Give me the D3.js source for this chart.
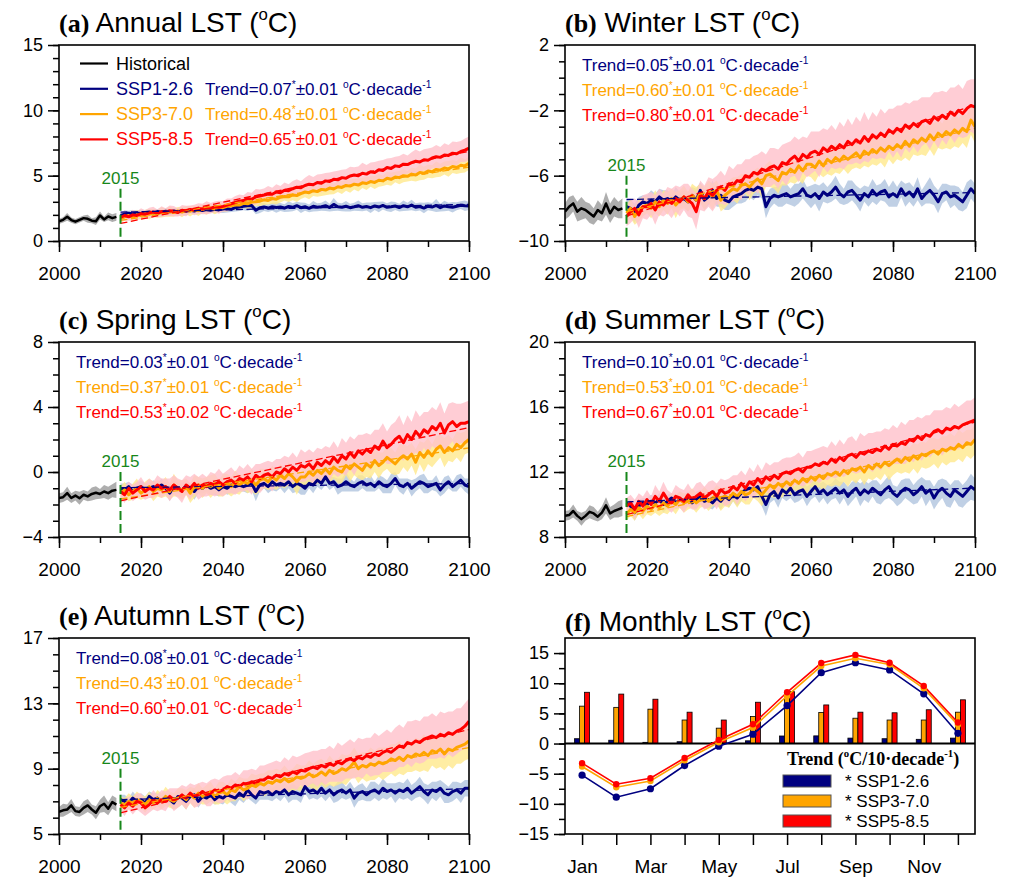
<!DOCTYPE html>
<html>
<head>
<meta charset="utf-8">
<script src="https://cdn.jsdelivr.net/npm/d3@7"></script>
<style>
  body { margin: 0; background: #fff; }
  svg { display: block; }
</style>
</head>
<body>
<svg id="chart" width="1012" height="877"></svg>
<script>
// ---------------- Data ----------------
// Historical years 2000-2014, scenario years 2015-2100
const histYears = d3.range(2000, 2015);
const scenYears = d3.range(2015, 2101);
const scenarioNames = ["SSP1-2.6", "SSP3-7.0", "SSP5-8.5"];
const yearTicks = [2000, 2020, 2040, 2060, 2080, 2100];

// (a) Annual LST
const annualHist = [1.50,1.62,1.85,1.60,1.48,1.62,1.75,1.70,1.55,1.52,1.95,1.65,1.88,1.75,1.85];
const annualHistSpread = [0.2,0.2,0.3,0.2,0.2,0.2,0.2,0.3,0.2,0.3,0.3,0.2,0.3,0.3,0.3];
const annualSSP126 = [
  1.95,2.05,2.12,2.08,2.15,2.10,2.18,2.22,2.15,2.25,
  2.20,2.28,2.24,2.30,2.22,2.32,2.28,2.35,2.30,2.38,
  2.33,2.40,2.36,2.42,2.38,2.45,2.48,2.42,2.55,2.60,
  2.65,2.70,2.72,2.35,2.55,2.60,2.52,2.62,2.56,2.60,
  2.52,2.64,2.58,2.70,2.55,2.62,2.50,2.66,2.58,2.62,
  2.70,2.56,2.80,2.62,2.58,2.66,2.55,2.62,2.70,2.58,
  2.64,2.55,2.68,2.60,2.72,2.58,2.62,2.68,2.56,2.70,
  2.62,2.75,2.58,2.64,2.52,2.66,2.60,2.72,2.55,2.68,
  2.62,2.58,2.66,2.74,2.70,2.68];
const annualSSP370 = [
  1.70,1.85,1.95,1.80,2.00,1.95,2.10,2.05,2.15,2.08,
  2.20,2.15,2.25,2.18,2.30,2.22,2.35,2.28,2.40,2.32,
  2.45,2.40,2.50,2.45,2.58,2.55,2.65,2.70,2.78,2.75,
  2.88,2.85,2.98,3.00,3.05,3.15,3.10,3.25,3.20,3.35,
  3.40,3.38,3.52,3.48,3.62,3.75,3.70,3.85,3.78,3.95,
  3.90,4.05,3.98,4.15,4.10,4.25,4.20,4.35,4.28,4.45,
  4.40,4.55,4.48,4.65,4.60,4.80,4.72,4.90,4.85,5.00,
  4.95,5.12,5.05,5.25,5.18,5.35,5.30,5.48,5.42,5.58,
  5.52,5.70,5.62,5.80,5.75,5.95];
const annualSSP585 = [
  1.80,1.95,1.85,2.00,1.95,2.10,2.05,2.15,2.22,2.12,
  2.25,2.20,2.32,2.28,2.18,2.35,2.30,2.42,2.38,2.48,
  2.45,2.55,2.50,2.62,2.58,2.65,2.75,2.85,2.95,3.05,
  3.10,3.25,3.20,3.38,3.45,3.52,3.60,3.58,3.75,3.70,
  3.88,3.85,4.00,4.12,4.08,4.25,4.35,4.30,4.48,4.42,
  4.60,4.55,4.72,4.68,4.85,4.80,4.98,5.05,5.00,5.18,
  5.12,5.30,5.25,5.45,5.40,5.62,5.55,5.75,5.70,5.88,
  5.85,6.00,6.10,6.05,6.22,6.18,6.35,6.45,6.40,6.58,
  6.55,6.72,6.68,6.85,6.95,7.10];
const annualSSP126Spread = [
  0.2,0.3,0.2,0.3,0.2,0.3,0.2,0.2,0.3,0.2,
  0.3,0.2,0.3,0.2,0.3,0.2,0.3,0.2,0.2,0.3,
  0.2,0.3,0.2,0.3,0.2,0.3,0.3,0.2,0.3,0.3,
  0.3,0.4,0.3,0.3,0.4,0.3,0.3,0.3,0.4,0.3,
  0.3,0.4,0.3,0.3,0.4,0.3,0.3,0.4,0.3,0.3,
  0.4,0.3,0.5,0.3,0.3,0.4,0.3,0.3,0.4,0.3,
  0.3,0.4,0.3,0.4,0.3,0.3,0.4,0.3,0.3,0.4,
  0.3,0.4,0.3,0.3,0.4,0.3,0.3,0.5,0.3,0.4,
  0.3,0.4,0.3,0.3,0.4,0.3];
const annualSSP370Spread = [
  0.3,0.3,0.2,0.3,0.4,0.3,0.3,0.4,0.3,0.3,
  0.4,0.3,0.4,0.3,0.3,0.4,0.3,0.4,0.3,0.4,
  0.3,0.4,0.3,0.4,0.4,0.3,0.4,0.3,0.4,0.4,
  0.3,0.4,0.4,0.3,0.4,0.4,0.3,0.4,0.4,0.4,
  0.3,0.4,0.4,0.5,0.4,0.4,0.5,0.4,0.4,0.5,
  0.4,0.5,0.4,0.4,0.5,0.4,0.5,0.4,0.5,0.4,
  0.5,0.4,0.5,0.5,0.4,0.5,0.5,0.4,0.5,0.5,
  0.4,0.5,0.5,0.6,0.5,0.5,0.5,0.6,0.5,0.5,
  0.6,0.5,0.5,0.6,0.5,0.5];
const annualSSP585Spread = [
  0.3,0.4,0.3,0.4,0.3,0.4,0.3,0.4,0.4,0.3,
  0.4,0.3,0.4,0.4,0.3,0.4,0.4,0.3,0.4,0.4,
  0.4,0.5,0.4,0.4,0.5,0.4,0.5,0.4,0.5,0.5,
  0.4,0.5,0.5,0.6,0.5,0.5,0.6,0.5,0.6,0.5,
  0.6,0.5,0.6,0.6,0.5,0.6,0.7,0.6,0.6,0.7,
  0.6,0.7,0.6,0.7,0.6,0.7,0.7,0.6,0.7,0.8,
  0.7,0.7,0.8,0.7,0.8,0.7,0.8,0.7,0.8,0.8,
  0.7,0.8,0.9,0.8,0.8,0.9,0.8,0.9,0.8,0.9,
  0.8,0.9,0.9,0.8,0.9,0.9];
const annualTrend = [0.07, 0.48, 0.65];
const annualTrendErr = [0.01, 0.01, 0.01];
const annualTicks = [0, 5, 10, 15];

// (b) Winter LST
const winterHist = [-8.2,-7.9,-7.7,-8.2,-8.0,-8.1,-8.3,-8.5,-8.1,-8.3,-7.7,-8.3,-7.9,-8.1,-8.0];
const winterHistSpread = [0.5,0.6,0.5,0.6,0.7,0.5,0.6,0.5,0.6,0.5,0.7,0.6,0.6,0.5,0.6];
const winterSSP126 = [
  -7.9,-8.0,-8.3,-7.8,-7.6,-7.7,-7.5,-7.6,-7.3,-7.5,
  -7.4,-7.6,-7.3,-7.5,-7.4,-7.6,-7.2,-7.5,-6.9,-7.5,
  -7.3,-6.9,-7.4,-7.2,-7.5,-7.6,-7.3,-7.2,-7.1,-6.9,
  -6.8,-6.9,-6.7,-6.8,-7.9,-7.4,-7.2,-7.3,-7.2,-7.1,
  -7.3,-7.2,-7.1,-6.8,-7.2,-7.3,-7.1,-7.4,-7.0,-7.2,
  -7.0,-6.7,-7.1,-7.3,-7.0,-6.9,-7.2,-7.5,-7.1,-7.3,
  -6.9,-7.2,-7.0,-6.9,-7.3,-7.1,-7.3,-6.8,-7.2,-7.0,
  -7.3,-6.8,-7.4,-7.1,-6.9,-7.2,-7.6,-7.1,-7.0,-7.3,
  -7.2,-7.4,-7.6,-7.2,-6.8,-7.1];
const winterSSP370 = [
  -8.3,-8.0,-8.5,-8.1,-7.9,-7.8,-8.0,-7.6,-7.9,-7.5,
  -7.7,-7.4,-7.8,-7.5,-7.3,-7.6,-7.2,-7.5,-7.1,-7.4,
  -7.0,-7.3,-6.9,-7.5,-7.2,-7.0,-6.8,-6.9,-6.6,-6.5,
  -6.7,-6.4,-6.2,-6.5,-6.0,-5.9,-6.1,-6.3,-5.8,-5.9,
  -5.6,-5.8,-5.4,-5.7,-5.3,-5.3,-5.5,-5.1,-5.4,-5.0,
  -5.2,-4.9,-5.1,-4.8,-5.0,-4.8,-4.6,-4.9,-4.5,-4.7,
  -4.4,-4.6,-4.3,-4.5,-4.2,-4.4,-4.1,-4.3,-3.9,-4.2,
  -3.8,-4.0,-3.7,-3.9,-3.5,-3.8,-3.4,-3.6,-3.3,-3.5,
  -3.2,-3.4,-3.1,-3.3,-2.6,-3.0];
const winterSSP585 = [
  -8.5,-8.2,-8.0,-8.4,-7.9,-7.9,-7.7,-8.1,-7.6,-7.8,
  -7.5,-7.7,-7.4,-7.6,-7.3,-7.5,-7.7,-8.2,-7.2,-7.4,
  -7.0,-7.2,-6.9,-6.7,-6.9,-6.5,-6.6,-6.3,-6.4,-6.0,
  -6.1,-5.8,-5.9,-5.6,-5.7,-5.5,-5.4,-5.6,-5.2,-5.3,
  -5.0,-4.8,-5.1,-4.7,-4.9,-4.6,-4.5,-4.7,-4.3,-4.5,
  -4.2,-4.4,-4.1,-4.3,-3.9,-4.1,-3.8,-4.0,-3.6,-3.9,
  -3.5,-3.7,-3.4,-3.6,-3.2,-3.4,-3.1,-3.3,-2.9,-3.1,
  -2.8,-3.0,-2.7,-2.6,-2.8,-2.4,-2.6,-2.3,-2.5,-2.1,
  -2.3,-2.0,-2.2,-1.9,-1.7,-1.8];
const winterSSP126Spread = [
  0.4,0.5,0.6,0.5,0.4,0.5,0.6,0.5,0.5,0.6,
  0.5,0.4,0.6,0.5,0.5,0.6,0.5,0.7,0.5,0.6,
  0.5,0.6,0.5,0.7,0.6,0.5,0.6,0.5,0.6,0.7,
  0.5,0.6,0.5,0.6,0.7,0.6,0.5,0.6,0.7,0.6,
  0.5,0.7,0.6,0.6,0.5,0.7,0.6,0.8,0.6,0.5,
  0.6,0.7,0.6,0.5,0.7,0.6,0.6,0.7,0.5,0.6,
  0.7,0.6,0.5,0.7,0.6,0.8,0.6,0.5,0.7,0.6,
  0.6,0.7,0.5,0.6,0.8,0.6,0.7,0.6,0.5,0.7,
  0.6,0.7,0.6,0.8,0.6,0.6];
const winterSSP370Spread = [
  0.5,0.6,0.5,0.7,0.6,0.5,0.6,0.7,0.6,0.6,
  0.7,0.6,0.8,0.6,0.7,0.6,0.7,0.8,0.6,0.7,
  0.7,0.8,0.6,0.7,0.8,0.7,0.7,0.8,0.7,0.6,
  0.8,0.7,0.7,0.8,0.7,0.8,0.7,0.8,0.8,0.7,
  0.8,0.7,0.9,0.8,0.7,0.8,0.9,0.8,0.7,0.9,
  0.8,0.9,0.8,0.8,0.9,0.8,0.9,0.7,0.9,0.8,
  0.9,0.8,0.9,1.0,0.8,0.9,0.9,0.8,1.0,0.9,
  0.9,0.8,1.0,0.9,0.9,1.0,0.9,0.8,1.0,0.9,
  1.0,0.9,0.9,1.0,0.9,1.0];
const winterSSP585Spread = [
  0.6,0.7,0.6,0.8,0.7,0.8,0.7,0.9,0.8,0.7,
  0.8,0.9,0.8,0.9,0.8,1.0,0.9,1.1,0.9,0.8,
  0.9,1.0,0.9,1.0,0.9,1.1,1.0,1.0,1.1,1.0,
  1.1,1.0,1.2,1.1,1.0,1.2,1.1,1.2,1.1,1.3,
  1.1,1.2,1.3,1.1,1.2,1.3,1.2,1.4,1.2,1.3,
  1.3,1.2,1.4,1.3,1.4,1.2,1.4,1.3,1.5,1.3,
  1.4,1.3,1.5,1.4,1.3,1.5,1.4,1.6,1.4,1.5,
  1.4,1.6,1.5,1.4,1.6,1.5,1.7,1.5,1.6,1.5,
  1.7,1.6,1.5,1.7,1.6,1.7];
const winterTrend = [0.05, 0.60, 0.80];
const winterTrendErr = [0.01, 0.01, 0.01];
const winterTicks = [-10, -6, -2, 2];

// (c) Spring LST
const springHist = [-1.60,-1.55,-1.30,-1.60,-1.45,-1.62,-1.40,-1.50,-1.35,-1.28,-1.35,-1.20,-1.30,-1.15,-1.10];
const springHistSpread = [0.3,0.3,0.4,0.3,0.3,0.4,0.3,0.3,0.4,0.4,0.3,0.4,0.4,0.4,0.5];
const springSSP126 = [
  -1.0,-1.1,-0.9,-1.2,-1.0,-0.9,-1.1,-1.0,-0.9,-1.0,
  -0.8,-1.0,-1.3,-0.9,-1.0,-1.1,-0.9,-1.0,-1.2,-0.9,
  -1.0,-0.8,-1.0,-0.9,-1.1,-0.9,-1.0,-0.8,-0.9,-0.8,
  -0.9,-0.8,-0.7,-1.2,-0.8,-0.7,-0.9,-0.6,-0.8,-0.7,
  -0.8,-0.6,-0.9,-0.7,-0.8,-1.0,-0.7,-0.8,-0.5,-0.7,
  -0.3,-0.7,-0.6,-0.9,-0.8,-0.6,-0.8,-0.9,-0.7,-0.6,
  -0.8,-0.7,-0.9,-0.6,-0.8,-0.9,-0.7,-0.4,-0.8,-0.9,
  -0.7,-1.0,-0.8,-0.6,-0.7,-0.9,-0.8,-0.7,-1.1,-0.8,
  -0.6,-0.9,-0.7,-0.5,-0.8,-0.9];
const springSSP370 = [
  -1.3,-1.1,-1.4,-1.2,-1.0,-1.3,-1.1,-0.9,-1.2,-1.0,
  -1.1,-0.9,-1.2,-0.8,-1.0,-1.1,-0.9,-1.3,-0.9,-0.8,
  -1.0,-0.8,-0.9,-0.7,-1.0,-0.8,-0.7,-0.9,-0.6,-0.8,
  -0.6,-0.7,-0.5,-0.8,-0.5,-0.4,-0.6,-0.3,-0.5,-0.2,
  -0.4,-0.1,-0.3,-0.6,-0.3,-0.3,0.0,-0.2,0.1,-0.1,
  0.2,-0.1,0.3,0.1,0.0,0.4,0.2,0.5,0.3,0.1,
  0.5,0.3,0.7,0.4,0.6,0.9,0.7,0.5,0.8,1.0,
  0.8,1.1,0.6,1.2,0.9,1.3,1.0,1.4,1.6,1.2,
  1.5,1.3,1.7,1.5,1.8,2.0];
const springSSP585 = [
  -1.2,-1.4,-1.0,-1.3,-1.1,-0.9,-1.2,-1.0,-1.1,-0.8,
  -1.0,-0.9,-1.1,-0.8,-1.0,-1.2,-0.8,-1.0,-0.7,-1.0,
  -0.8,-0.9,-0.7,-0.8,-0.6,-0.8,-0.6,-0.5,-0.7,-0.4,
  -0.5,-0.3,-0.6,-0.2,-0.4,-0.2,-0.1,-0.3,0.0,-0.1,
  0.2,0.0,0.3,0.1,0.4,0.3,0.5,0.2,0.6,0.4,
  0.7,0.5,0.9,0.6,1.0,0.8,1.2,0.9,1.3,1.1,
  1.4,1.2,1.6,1.4,1.9,1.5,1.7,2.0,2.2,1.8,
  2.3,2.0,2.5,2.2,2.6,2.4,2.8,2.6,3.0,2.4,
  2.9,3.1,2.8,3.0,3.0,3.1];
const springSSP126Spread = [
  0.3,0.4,0.3,0.4,0.3,0.4,0.4,0.3,0.4,0.3,
  0.4,0.3,0.5,0.4,0.3,0.4,0.4,0.3,0.5,0.4,
  0.3,0.4,0.4,0.5,0.4,0.3,0.4,0.5,0.4,0.4,
  0.3,0.5,0.4,0.6,0.4,0.3,0.4,0.5,0.4,0.3,
  0.5,0.4,0.4,0.5,0.6,0.4,0.3,0.5,0.4,0.4,
  0.5,0.4,0.3,0.5,0.4,0.6,0.4,0.3,0.5,0.4,
  0.4,0.5,0.3,0.4,0.5,0.4,0.6,0.4,0.4,0.5,
  0.3,0.5,0.4,0.4,0.6,0.4,0.3,0.5,0.4,0.5,
  0.4,0.3,0.5,0.4,0.4,0.5];
const springSSP370Spread = [
  0.4,0.5,0.4,0.5,0.6,0.4,0.5,0.5,0.6,0.5,
  0.5,0.6,0.5,0.7,0.5,0.6,0.5,0.6,0.7,0.5,
  0.6,0.5,0.7,0.6,0.5,0.7,0.6,0.6,0.7,0.6,
  0.5,0.6,0.7,0.6,0.7,0.6,0.5,0.7,0.6,0.7,
  0.6,0.7,0.6,0.8,0.6,0.7,0.6,0.7,0.8,0.6,
  0.7,0.6,0.7,0.8,0.7,0.6,0.8,0.7,0.7,0.6,
  0.8,0.7,0.7,0.8,0.6,0.7,0.8,0.7,0.9,0.7,
  0.8,0.7,0.8,0.7,0.9,0.8,0.7,0.8,0.7,0.9,
  0.8,0.7,0.8,0.9,0.7,0.8];
const springSSP585Spread = [
  0.4,0.5,0.4,0.5,0.5,0.6,0.5,0.6,0.5,0.6,
  0.6,0.5,0.7,0.6,0.6,0.7,0.6,0.7,0.6,0.7,
  0.7,0.6,0.7,0.7,0.8,0.7,0.7,0.8,0.7,0.8,
  0.7,0.8,0.8,0.7,0.9,0.8,0.8,0.9,0.8,0.9,
  0.8,0.9,0.9,0.8,1.0,0.9,0.9,1.0,0.9,1.0,
  0.9,1.0,1.0,0.9,1.1,1.0,1.0,1.1,1.0,1.2,
  1.0,1.1,1.0,1.2,1.1,1.0,1.2,1.1,1.3,1.1,
  1.2,1.1,1.3,1.2,1.1,1.3,1.2,1.2,1.3,1.2,
  1.3,1.2,1.4,1.2,1.3,1.3];
const springTrend = [0.03, 0.37, 0.53];
const springTrendErr = [0.01, 0.01, 0.02];
const springTicks = [-4, 0, 4, 8];

// (d) Summer LST
const summerHist = [9.30,9.35,9.60,9.30,9.10,9.30,9.55,9.45,9.25,9.50,9.95,9.45,9.60,9.70,9.80];
const summerHistSpread = [0.3,0.3,0.4,0.3,0.4,0.3,0.4,0.4,0.3,0.4,0.5,0.4,0.4,0.5,0.5];
const summerSSP126 = [
  10.1,9.9,9.5,9.9,10.1,10.0,10.2,10.1,10.3,10.0,
  10.2,10.4,10.1,10.3,10.2,10.4,10.1,10.3,10.5,10.2,
  10.3,10.1,10.4,10.2,10.5,10.3,10.6,10.4,10.7,10.9,
  11.0,10.9,11.1,10.5,10.0,10.6,10.8,10.4,10.9,10.7,
  11.0,10.6,10.8,10.9,10.5,10.8,11.1,10.7,10.9,10.6,
  10.8,11.0,10.7,10.9,10.5,10.8,11.0,10.6,10.9,10.7,
  11.0,10.8,10.6,10.9,11.1,10.7,10.5,10.8,11.0,10.9,
  10.6,10.8,11.1,10.7,10.9,10.4,10.8,11.0,10.7,10.5,
  10.9,10.7,10.5,10.8,11.1,10.9];
const summerSSP370 = [
  9.4,9.7,9.5,9.8,9.6,9.9,9.7,10.0,9.8,10.1,
  9.9,10.2,10.0,10.3,10.1,10.2,10.4,10.1,10.3,10.5,
  10.2,10.4,10.6,10.3,10.5,10.4,10.7,10.5,10.8,10.6,
  10.7,11.0,10.8,10.6,10.9,11.2,11.0,11.3,11.1,11.4,
  11.2,11.5,11.3,11.6,11.4,11.7,11.5,11.8,11.6,11.9,
  11.8,12.0,11.8,12.1,11.9,12.2,12.1,12.3,12.0,12.4,
  12.2,12.5,12.3,12.6,12.4,12.6,12.8,12.6,12.9,12.7,
  13.0,12.8,13.1,13.0,13.2,13.3,13.1,13.4,13.3,13.5,
  13.4,13.7,13.5,13.8,13.7,14.0];
const summerSSP585 = [
  9.9,10.1,9.7,10.2,9.9,10.3,10.0,10.5,10.2,10.7,
  10.3,10.1,10.5,10.4,10.2,10.6,10.3,10.5,10.7,10.4,
  10.6,10.8,10.5,10.9,10.7,10.8,11.1,10.9,11.3,11.0,
  11.4,11.2,11.6,11.3,11.7,11.5,11.8,11.6,11.9,12.0,
  11.9,12.1,12.2,12.0,12.3,12.3,12.5,12.4,12.6,12.5,
  12.8,12.6,12.9,12.7,13.0,13.1,12.9,13.2,13.1,13.3,
  13.2,13.4,13.3,13.6,13.4,13.7,13.6,13.8,13.7,14.0,
  13.9,14.2,14.0,14.3,14.2,14.5,14.6,14.4,14.7,14.6,
  14.8,14.7,14.9,15.0,15.1,15.2];
const summerSSP126Spread = [
  0.3,0.4,0.5,0.4,0.3,0.4,0.4,0.3,0.4,0.5,
  0.4,0.3,0.4,0.5,0.4,0.4,0.3,0.5,0.4,0.4,
  0.5,0.4,0.4,0.5,0.4,0.5,0.4,0.5,0.5,0.4,
  0.5,0.4,0.5,0.6,0.7,0.5,0.5,0.6,0.5,0.5,
  0.6,0.5,0.6,0.5,0.6,0.5,0.6,0.6,0.5,0.6,
  0.5,0.6,0.7,0.5,0.6,0.6,0.5,0.7,0.6,0.6,
  0.5,0.7,0.6,0.6,0.7,0.5,0.6,0.7,0.6,0.7,
  0.6,0.7,0.6,0.8,0.6,0.7,0.7,0.6,0.8,0.7,
  0.6,0.8,0.7,0.7,0.8,0.7];
const summerSSP370Spread = [
  0.4,0.4,0.5,0.4,0.5,0.5,0.4,0.5,0.5,0.6,
  0.5,0.5,0.6,0.5,0.6,0.5,0.6,0.6,0.5,0.6,
  0.6,0.5,0.6,0.7,0.6,0.6,0.5,0.7,0.6,0.6,
  0.7,0.6,0.6,0.7,0.6,0.7,0.6,0.7,0.7,0.6,
  0.7,0.6,0.7,0.7,0.8,0.6,0.7,0.7,0.8,0.7,
  0.7,0.8,0.7,0.7,0.8,0.7,0.8,0.7,0.8,0.8,
  0.7,0.8,0.8,0.7,0.9,0.8,0.8,0.7,0.9,0.8,
  0.8,0.9,0.8,0.8,0.9,0.8,0.9,0.8,0.9,0.9,
  0.8,0.9,0.9,0.8,0.9,0.9];
const summerSSP585Spread = [
  0.5,0.5,0.6,0.5,0.6,0.6,0.5,0.7,0.6,0.7,
  0.6,0.6,0.7,0.6,0.7,0.7,0.6,0.8,0.7,0.7,
  0.8,0.7,0.8,0.7,0.8,0.8,0.7,0.9,0.8,0.8,
  0.9,0.8,0.9,0.8,0.9,0.9,0.8,1.0,0.9,0.9,
  1.0,0.9,1.0,0.9,1.0,1.0,0.9,1.1,1.0,1.0,
  1.1,1.0,1.1,1.0,1.1,1.1,1.0,1.2,1.1,1.1,
  1.2,1.1,1.2,1.1,1.2,1.2,1.1,1.3,1.2,1.2,
  1.3,1.2,1.3,1.2,1.3,1.3,1.2,1.4,1.3,1.3,
  1.4,1.3,1.3,1.4,1.3,1.4];
const summerTrend = [0.10, 0.53, 0.67];
const summerTrendErr = [0.01, 0.01, 0.01];
const summerTicks = [8, 12, 16, 20];

// (e) Autumn LST
const autumnHist = [6.35,6.45,6.50,6.75,6.40,6.35,6.60,6.75,6.50,6.30,6.70,6.85,6.55,6.95,6.80];
const autumnHistSpread = [0.3,0.4,0.3,0.4,0.3,0.3,0.4,0.4,0.3,0.4,0.4,0.5,0.4,0.4,0.4];
const autumnSSP126 = [
  7.1,7.0,6.9,7.2,7.0,7.1,6.9,7.3,7.1,7.2,
  7.0,7.2,7.1,6.9,7.3,7.2,7.0,7.3,7.4,7.0,
  7.3,7.2,7.4,7.1,7.3,7.2,7.4,7.3,7.2,7.5,
  7.3,7.7,7.4,7.2,7.6,7.5,7.6,7.4,7.6,7.5,
  7.7,7.4,7.6,7.5,7.4,7.9,7.6,7.7,7.5,7.8,
  7.5,7.7,7.4,7.6,7.7,7.5,7.7,7.2,7.5,7.6,
  7.4,7.6,7.7,7.5,7.8,7.6,7.7,7.5,7.7,7.6,
  7.8,7.5,7.7,7.9,7.6,7.4,7.7,7.6,7.8,7.5,
  7.4,7.6,7.7,7.5,7.8,7.8];
const autumnSSP370 = [
  6.9,6.8,7.0,6.9,7.1,7.0,6.8,7.1,6.9,7.2,
  7.0,7.3,7.1,7.0,7.2,7.3,7.1,7.4,7.2,7.5,
  7.3,7.4,7.6,7.3,7.5,7.6,7.4,7.7,7.6,7.9,
  7.7,7.8,8.0,7.9,8.1,8.0,8.2,8.1,8.3,8.2,
  8.4,8.2,8.3,8.5,8.4,8.5,8.7,8.5,8.6,8.8,
  8.6,8.9,8.7,8.8,9.0,8.9,9.1,9.4,9.0,9.2,
  9.1,9.3,9.2,9.4,9.3,9.4,9.6,9.5,9.7,9.5,
  9.8,9.7,9.9,9.8,10.0,9.8,10.1,10.0,10.2,9.9,
  10.2,10.1,10.3,10.4,10.5,10.7];
const autumnSSP585 = [
  6.8,6.6,6.9,6.7,7.0,6.9,6.6,6.8,7.1,6.9,
  7.1,7.0,7.3,7.1,7.2,7.4,7.2,7.5,7.3,7.4,
  7.6,7.4,7.5,7.7,7.6,7.7,7.9,7.8,8.0,7.9,
  8.1,8.0,8.2,8.1,8.3,8.3,8.5,8.4,8.6,8.5,
  8.7,8.6,8.8,8.7,8.9,8.85,9.0,9.1,9.0,9.2,
  9.1,9.3,9.2,9.4,9.3,9.5,9.6,9.5,9.7,9.6,
  9.8,9.7,9.9,9.8,10.0,10.1,10.0,10.2,10.4,10.3,
  10.6,10.5,10.7,10.6,10.8,10.9,11.0,10.9,11.1,11.0,
  11.2,11.1,11.3,11.4,11.6,11.9];
const autumnSSP126Spread = [
  0.3,0.4,0.3,0.4,0.3,0.4,0.4,0.3,0.4,0.3,
  0.4,0.3,0.4,0.4,0.3,0.4,0.5,0.3,0.4,0.4,
  0.3,0.4,0.4,0.3,0.4,0.4,0.3,0.4,0.5,0.4,
  0.4,0.5,0.4,0.4,0.5,0.4,0.5,0.4,0.4,0.5,
  0.4,0.5,0.5,0.4,0.5,0.4,0.5,0.5,0.4,0.5,
  0.5,0.4,0.5,0.6,0.5,0.4,0.5,0.6,0.5,0.5,
  0.4,0.6,0.5,0.5,0.6,0.5,0.4,0.6,0.5,0.5,
  0.6,0.5,0.5,0.6,0.5,0.6,0.5,0.6,0.5,0.6,
  0.5,0.6,0.5,0.6,0.5,0.5];
const autumnSSP370Spread = [
  0.4,0.4,0.5,0.4,0.5,0.4,0.5,0.5,0.4,0.5,
  0.5,0.6,0.5,0.5,0.6,0.5,0.6,0.5,0.6,0.6,
  0.5,0.6,0.6,0.5,0.7,0.6,0.6,0.7,0.6,0.6,
  0.7,0.6,0.7,0.7,0.6,0.7,0.7,0.8,0.7,0.7,
  0.8,0.7,0.7,0.8,0.8,0.7,0.8,0.8,0.9,0.8,
  0.8,0.9,0.8,0.8,0.9,0.9,0.8,0.9,0.9,0.8,
  0.9,1.0,0.9,0.9,1.0,0.9,0.9,1.0,1.0,0.9,
  1.0,0.9,1.0,1.0,1.1,1.0,0.9,1.0,1.1,1.0,
  1.0,1.1,1.0,1.1,1.0,1.1];
const autumnSSP585Spread = [
  0.4,0.5,0.4,0.5,0.5,0.6,0.5,0.5,0.6,0.5,
  0.6,0.6,0.5,0.7,0.6,0.6,0.7,0.6,0.7,0.7,
  0.6,0.7,0.8,0.7,0.7,0.8,0.7,0.8,0.8,0.7,
  0.8,0.9,0.8,0.8,0.9,0.9,0.8,1.0,0.9,0.9,
  1.0,0.9,1.0,1.0,0.9,1.1,1.0,1.0,1.1,1.0,
  1.1,1.1,1.0,1.2,1.1,1.1,1.2,1.1,1.2,1.2,
  1.1,1.2,1.3,1.2,1.2,1.3,1.2,1.3,1.3,1.2,
  1.3,1.4,1.3,1.3,1.4,1.3,1.4,1.3,1.4,1.4,
  1.3,1.4,1.4,1.3,1.4,1.4];
const autumnTrend = [0.08, 0.43, 0.60];
const autumnTrendErr = [0.01, 0.01, 0.01];
const autumnTicks = [5, 9, 13, 17];

// (f) Monthly LST climatology and monthly trends (°C per 10 decades)
const months = ["Jan","Feb","Mar","Apr","May","Jun","Jul","Aug","Sep","Oct","Nov","Dec"];
const monthLabels = ["Jan","Mar","May","Jul","Sep","Nov"];
const monthlySSP126 = [-5.25,-8.9,-7.5,-3.65,-0.45,1.55,6.3,11.75,13.4,12.2,8.25,1.7];
const monthlySSP370 = [-3.8,-7.25,-6.2,-2.8,0.2,2.65,7.9,12.85,14.15,13.1,9.15,3.1];
const monthlySSP585 = [-3.25,-6.75,-5.75,-2.4,0.6,3.2,8.5,13.35,14.7,13.4,9.55,3.5];
const monthTrendSSP126 = [0.8,0.55,0.2,0.3,0.15,0.45,1.25,1.27,0.9,0.8,0.7,0.9];
const monthTrendSSP370 = [6.2,6.0,5.7,3.9,2.55,4.5,8.4,5.15,4.2,3.9,3.9,5.2];
const monthTrendSSP585 = [8.5,8.2,7.35,5.2,3.9,6.85,8.6,6.4,5.2,5.1,5.6,7.25];
const monthlyTicks = [-15, -10, -5, 0, 5, 10, 15];

// Level at which the dashed 2015 marker line starts in each panel
const marker2015 = [4, -6, 0, 12, 9];

// ---------------- Styles ----------------
const SANS = "'Liberation Sans', Arial, Helvetica, sans-serif";
const SERIF = "'Liberation Serif', 'Times New Roman', Times, serif";
const lineColor = ["#000080", "#ffa500", "#ff0000"];
const bandColor = ["#b0c4de", "#ffe88c", "#ffc0cb"];
const histColor = "#000000";
const histBand = "#a0a0a0";
const markGreen = "#17871a";

const svg = d3.select("#chart");
svg.append("rect").attr("width", 1012).attr("height", 877).attr("fill", "#fff");

// Writes a run of text pieces; pieces flagged sup are raised and shrunk.
function richText(sel, pieces, size) {
  let shift = 0;
  pieces.forEach(p => {
    const ts = sel.append("tspan").text(p.t);
    const target = p.sup ? -size * 0.42 : 0;
    ts.attr("dy", target - shift);
    shift = target;
    if (p.sup) ts.attr("font-size", size * 0.6);
    if (p.font) ts.attr("font-family", p.font);
    if (p.weight) ts.attr("font-weight", p.weight);
    if (p.size) ts.attr("font-size", p.size);
  });
}

function drawTitle(g, x, y, tag, name) {
  const t = g.append("text").attr("x", x).attr("y", y)
    .attr("font-family", SANS).attr("font-size", 28).attr("fill", "#000");
  richText(t, [
    {t: tag, font: SERIF, weight: "bold", size: 26},
    {t: " " + name + " ("},
    {t: "o", sup: true},
    {t: "C)"}
  ], 28);
}

function trendPieces(v, e) {
  return [
    {t: "Trend=" + v.toFixed(2)},
    {t: "*", sup: true},
    {t: "\u00B1" + e.toFixed(2) + " "},
    {t: "o", sup: true},
    {t: "C\u00B7decade"},
    {t: "-1", sup: true}
  ];
}

function drawAxes(g, x, y, box, xTicks, xMinor, yTicks, yMinor, xFormat) {
  const ax = g.append("g").attr("transform", `translate(0,${box.y1})`)
    .call(d3.axisBottom(x).tickValues(xMinor).tickSize(6).tickFormat(""));
  ax.select(".domain").remove();
  const axM = g.append("g").attr("transform", `translate(0,${box.y1})`)
    .call(d3.axisBottom(x).tickValues(xTicks).tickSize(11).tickPadding(15).tickFormat(xFormat));
  axM.select(".domain").remove();
  axM.selectAll("text").attr("font-family", SANS).attr("font-size", 19).attr("fill", "#000");

  const ay = g.append("g").attr("transform", `translate(${box.x0},0)`)
    .call(d3.axisLeft(y).tickValues(yMinor).tickSize(6).tickFormat(""));
  ay.select(".domain").remove();
  const ayM = g.append("g").attr("transform", `translate(${box.x0},0)`)
    .call(d3.axisLeft(y).tickValues(yTicks).tickSize(11).tickPadding(5).tickFormat(d3.format("d")));
  ayM.select(".domain").remove();
  ayM.selectAll("text").attr("font-family", SANS).attr("font-size", 18).attr("fill", "#000");
  g.selectAll(".tick line").attr("stroke", "#000").attr("stroke-width", 1.5);
}

// ---------------- Time-series panels ----------------
const seasonPanels = [
  {tag: "(a)", name: "Annual", box: {x0: 59, x1: 469, y0: 45, y1: 241}, domain: [0, 15], ticks: annualTicks,
   hist: annualHist, histSpread: annualHistSpread,
   series: [annualSSP126, annualSSP370, annualSSP585],
   spreads: [annualSSP126Spread, annualSSP370Spread, annualSSP585Spread],
   trend: annualTrend, trendErr: annualTrendErr, legend: true},
  {tag: "(b)", name: "Winter", box: {x0: 565, x1: 975, y0: 45, y1: 241}, domain: [-10, 2], ticks: winterTicks,
   hist: winterHist, histSpread: winterHistSpread,
   series: [winterSSP126, winterSSP370, winterSSP585],
   spreads: [winterSSP126Spread, winterSSP370Spread, winterSSP585Spread],
   trend: winterTrend, trendErr: winterTrendErr},
  {tag: "(c)", name: "Spring", box: {x0: 59, x1: 469, y0: 342, y1: 537}, domain: [-4, 8], ticks: springTicks,
   hist: springHist, histSpread: springHistSpread,
   series: [springSSP126, springSSP370, springSSP585],
   spreads: [springSSP126Spread, springSSP370Spread, springSSP585Spread],
   trend: springTrend, trendErr: springTrendErr},
  {tag: "(d)", name: "Summer", box: {x0: 565, x1: 975, y0: 342, y1: 537}, domain: [8, 20], ticks: summerTicks,
   hist: summerHist, histSpread: summerHistSpread,
   series: [summerSSP126, summerSSP370, summerSSP585],
   spreads: [summerSSP126Spread, summerSSP370Spread, summerSSP585Spread],
   trend: summerTrend, trendErr: summerTrendErr},
  {tag: "(e)", name: "Autumn", box: {x0: 59, x1: 469, y0: 638, y1: 834}, domain: [5, 17], ticks: autumnTicks,
   hist: autumnHist, histSpread: autumnHistSpread,
   series: [autumnSSP126, autumnSSP370, autumnSSP585],
   spreads: [autumnSSP126Spread, autumnSSP370Spread, autumnSSP585Spread],
   trend: autumnTrend, trendErr: autumnTrendErr}
];

seasonPanels.forEach((p, pi) => {
  const b = p.box;
  const g = svg.append("g");
  const x = d3.scaleLinear().domain([2000, 2100]).range([b.x0, b.x1]);
  const y = d3.scaleLinear().domain(p.domain).range([b.y1, b.y0]);

  const clipId = "clip" + pi;
  g.append("clipPath").attr("id", clipId).append("rect")
    .attr("x", b.x0).attr("y", b.y0).attr("width", b.x1 - b.x0).attr("height", b.y1 - b.y0);
  const plot = g.append("g").attr("clip-path", `url(#${clipId})`);

  const rows = (yrs, vals, spr) => yrs.map((yr, i) => ({yr, v: vals[i], s: spr[i]}));
  const area = d3.area().x(d => x(d.yr)).y0(d => y(d.v - d.s)).y1(d => y(d.v + d.s));
  const line = d3.line().x(d => x(d.yr)).y(d => y(d.v));

  // spread bands
  plot.append("path").datum(rows(histYears, p.hist, p.histSpread))
    .attr("d", area).attr("fill", histBand).attr("fill-opacity", 0.85);
  p.series.forEach((s, k) => {
    plot.append("path").datum(rows(scenYears, s, p.spreads[k]))
      .attr("d", area).attr("fill", bandColor[k]).attr("fill-opacity", 0.8);
  });

  // ensemble means
  plot.append("path").datum(rows(histYears, p.hist, p.histSpread))
    .attr("d", line).attr("fill", "none").attr("stroke", histColor).attr("stroke-width", 2.5)
    .attr("stroke-linejoin", "round");
  p.series.forEach((s, k) => {
    plot.append("path").datum(rows(scenYears, s, p.spreads[k]))
      .attr("d", line).attr("fill", "none").attr("stroke", lineColor[k]).attr("stroke-width", 3)
      .attr("stroke-linejoin", "round");
  });

  // linear trends: slope from the stated trend (per decade), through the series centroid
  p.series.forEach((s, k) => {
    const my = d3.mean(scenYears), mv = d3.mean(s);
    const slope = p.trend[k] / 10;
    const ends = [2015, 2100].map(yr => ({yr, v: mv + slope * (yr - my)}));
    plot.append("path").datum(ends).attr("d", line).attr("fill", "none")
      .attr("stroke", lineColor[k]).attr("stroke-width", 1.3).attr("stroke-dasharray", "7,3.5");
  });

  // 2015 marker
  g.append("line").attr("x1", x(2015)).attr("x2", x(2015))
    .attr("y1", y(marker2015[pi])).attr("y2", b.y1)
    .attr("stroke", markGreen).attr("stroke-width", 2).attr("stroke-dasharray", "9,4");
  g.append("text").attr("x", x(2015)).attr("y", y(marker2015[pi]) - 5)
    .attr("text-anchor", "middle").attr("font-family", SANS).attr("font-size", 17)
    .attr("fill", markGreen).text("2015");

  // frame and axes
  g.append("rect").attr("x", b.x0).attr("y", b.y0).attr("width", b.x1 - b.x0).attr("height", b.y1 - b.y0)
    .attr("fill", "none").attr("stroke", "#000").attr("stroke-width", 1.6);
  drawAxes(g, x, y, b, yearTicks, d3.range(2000, 2101, 10), p.ticks,
           d3.range(p.domain[0], p.domain[1] + 0.001, 1), d3.format("d"));

  drawTitle(g, b.x0, b.y0 - 13, p.tag, p.name + " LST");

  // trend annotations (and the legend in the annual panel)
  if (p.legend) {
    const items = [{name: "Historical", color: histColor}]
      .concat(scenarioNames.map((n, k) => ({name: n, color: lineColor[k]})));
    items.forEach((it, i) => {
      const by = b.y0 + 24.5 + i * 25.3;
      g.append("line").attr("x1", b.x0 + 21).attr("x2", b.x0 + 49)
        .attr("y1", by - 6).attr("y2", by - 6).attr("stroke", it.color).attr("stroke-width", 2.2);
      g.append("text").attr("x", b.x0 + 57).attr("y", by).attr("font-family", SANS)
        .attr("font-size", 18).attr("fill", it.color).text(it.name);
      if (i > 0) {
        const t = g.append("text").attr("x", b.x0 + 146).attr("y", by)
          .attr("font-family", SANS).attr("font-size", 17).attr("fill", it.color);
        richText(t, trendPieces(p.trend[i - 1], p.trendErr[i - 1]), 17);
      }
    });
  } else {
    p.trend.forEach((v, k) => {
      const t = g.append("text").attr("x", b.x0 + 17).attr("y", b.y0 + 25.7 + k * 25)
        .attr("font-family", SANS).attr("font-size", 17).attr("fill", lineColor[k]);
      richText(t, trendPieces(v, p.trendErr[k]), 17);
    });
  }
});

// ---------------- (f) Monthly panel ----------------
(function () {
  const b = {x0: 565, x1: 975, y0: 638, y1: 834};
  const g = svg.append("g");
  const x = d3.scaleLinear().domain([0.5, 12.5]).range([b.x0, b.x1]);
  const y = d3.scaleLinear().domain([-15, 17.5]).range([b.y1, b.y0]);
  const trends = [monthTrendSSP126, monthTrendSSP370, monthTrendSSP585];
  const clim = [monthlySSP126, monthlySSP370, monthlySSP585];
  const barW = 5;

  // trend bars
  trends.forEach((arr, k) => {
    g.selectAll(null).data(arr).enter().append("rect")
      .attr("x", (d, i) => x(i + 1) + (k - 1) * barW - barW / 2)
      .attr("y", d => y(Math.max(0, d)))
      .attr("width", barW)
      .attr("height", d => Math.abs(y(d) - y(0)))
      .attr("fill", lineColor[k]).attr("stroke", "#000").attr("stroke-width", 0.8);
  });

  // zero line
  g.append("line").attr("x1", b.x0).attr("x2", b.x1).attr("y1", y(0)).attr("y2", y(0))
    .attr("stroke", "#000").attr("stroke-width", 2);

  // monthly climatology lines with markers
  const line = d3.line().x((d, i) => x(i + 1)).y(d => y(d));
  clim.forEach((arr, k) => {
    g.append("path").datum(arr).attr("d", line).attr("fill", "none")
      .attr("stroke", lineColor[k]).attr("stroke-width", 1.6);
  });
  clim.forEach((arr, k) => {
    g.selectAll(null).data(arr).enter().append("circle")
      .attr("cx", (d, i) => x(i + 1)).attr("cy", d => y(d))
      .attr("r", k === 0 ? 3.6 : 3.2).attr("fill", lineColor[k]);
  });

  g.append("rect").attr("x", b.x0).attr("y", b.y0).attr("width", b.x1 - b.x0).attr("height", b.y1 - b.y0)
    .attr("fill", "none").attr("stroke", "#000").attr("stroke-width", 1.6);

  drawAxes(g, x, y, b, d3.range(1, 13), [], monthlyTicks, d3.range(-15, 15.01, 2.5),
           d => monthLabels.includes(months[d - 1]) ? months[d - 1] : "");

  drawTitle(g, b.x0, b.y0 - 7, "(f)", "Monthly LST");

  // legend
  const lt = g.append("text").attr("x", 787).attr("y", 765)
    .attr("font-family", SERIF).attr("font-weight", "bold").attr("font-size", 18).attr("fill", "#000");
  richText(lt, [
    {t: "Trend ("}, {t: "o", sup: true}, {t: "C/10\u00B7decade"}, {t: "-1", sup: true}, {t: ")"}
  ], 18);
  scenarioNames.forEach((n, k) => {
    const ty = 775 + k * 20;
    g.append("rect").attr("x", 783).attr("y", ty).attr("width", 48).attr("height", 12)
      .attr("fill", lineColor[k]).attr("stroke", "#555").attr("stroke-width", 1);
    g.append("text").attr("x", 845).attr("y", ty + 12).attr("font-family", SANS)
      .attr("font-size", 17).attr("fill", "#000").text("* " + n);
  });
})();
</script>
</body>
</html>
